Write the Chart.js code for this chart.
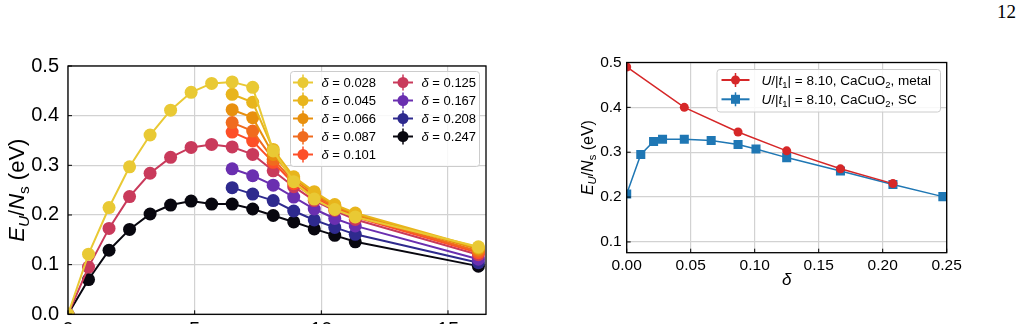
<!DOCTYPE html>
<html>
<head>
<meta charset="utf-8">
<script src="https://cdn.jsdelivr.net/npm/chart.js@4"></script>
<style>
html, body { margin: 0; padding: 0; background: #fff; overflow: hidden; width: 1023px; height: 324px; }
#c1 { position: absolute; left: 0; top: 0; }
#c2 { position: absolute; left: 560px; top: 0; }
#page { position: absolute; left: 997px; top: 2px; font: 19px "Liberation Serif", "Times New Roman", serif; line-height: 1; }
</style>
</head>
<body>
<div id="page">12</div>
<canvas id="c1" width="500" height="350"></canvas>
<canvas id="c2" width="420" height="324"></canvas>
<script>
// left panel: energy vs U/|t1| for several dopings
const uFull = [0, 0.81, 1.62, 2.43, 3.24, 4.05, 4.86, 5.67, 6.48, 7.29, 8.10, 8.91, 9.72, 10.53, 11.34, 16.2];
const uPart = [6.48, 7.29, 8.10, 8.91, 9.72, 10.53, 11.34, 16.2];
const dopings = ['0.028', '0.045', '0.066', '0.087', '0.101', '0.125', '0.167', '0.208', '0.247'];
const e028 = [0, 0.121, 0.215, 0.297, 0.361, 0.411, 0.447, 0.465, 0.468, 0.457, 0.329, 0.267, 0.232, 0.211, 0.196, 0.136];
const e045 = [0.443, 0.427, 0.332, 0.277, 0.247, 0.221, 0.204, 0.134];
const e066 = [0.412, 0.396, 0.322, 0.273, 0.244, 0.219, 0.202, 0.131];
const e087 = [0.386, 0.369, 0.312, 0.268, 0.240, 0.216, 0.199, 0.127];
const e101 = [0.367, 0.349, 0.306, 0.263, 0.236, 0.213, 0.196, 0.124];
const e125 = [0, 0.095, 0.173, 0.237, 0.284, 0.316, 0.336, 0.342, 0.337, 0.322, 0.289, 0.257, 0.229, 0.209, 0.191, 0.120];
const e167 = [0.293, 0.279, 0.260, 0.236, 0.212, 0.193, 0.178, 0.111];
const e208 = [0.255, 0.242, 0.229, 0.208, 0.190, 0.175, 0.161, 0.104];
const e247 = [0, 0.070, 0.129, 0.171, 0.202, 0.220, 0.228, 0.222, 0.222, 0.212, 0.199, 0.186, 0.172, 0.159, 0.146, 0.097];

// right panel: energy vs doping at U/|t1| = 8.10
const deltaMetal = [0, 0.045, 0.087, 0.125, 0.167, 0.208];
const eMetal = [0.490, 0.400, 0.345, 0.303, 0.263, 0.230];
const deltaSC = [0, 0.011, 0.021, 0.028, 0.045, 0.066, 0.087, 0.101, 0.125, 0.167, 0.208, 0.247];
const eSC = [0.207, 0.295, 0.324, 0.329, 0.329, 0.326, 0.317, 0.307, 0.288, 0.258, 0.228, 0.201];

const colours = ['#e9c934', '#e8b51c', '#e8900e', '#f06b1e', '#fd4f28', '#c93a5b', '#6a2fb0', '#2e2a8e', '#08070f'];
const FONT = '"Liberation Sans", Arial, Helvetica, sans-serif';

Chart.defaults.color = '#000';
Chart.defaults.font.family = FONT;
Chart.defaults.animation = false;
Chart.defaults.plugins.legend.display = false;
Chart.defaults.plugins.tooltip.enabled = false;

// draw text made of pieces: [text, flags], i = italic, s = subscript
function drawRich(ctx, parts, x, y, size, align) {
	let total = 0;
	const items = parts.map(([t, f = '']) => {
		const sz = f.includes('s') ? size * 0.7 : size;
		const font = (f.includes('i') ? 'italic ' : '') + sz + 'px ' + FONT;
		ctx.font = font;
		const w = ctx.measureText(t).width;
		total += w;
		return { t, font, w, dy: f.includes('s') ? size * 0.22 : 0 };
	});
	let cx = align === 'center' ? x - total / 2 : x;
	ctx.textAlign = 'left';
	ctx.textBaseline = 'alphabetic';
	items.forEach(it => {
		ctx.font = it.font;
		ctx.fillText(it.t, cx, y + it.dy);
		cx += it.w;
	});
}

const yTitle = [['E', 'i'], ['U', 'si'], ['/'], ['N', 'i'], ['s', 's'], [' (eV)']];

function legendMarker(ctx, cx, cy, colour, square, r, half) {
	ctx.save();
	ctx.strokeStyle = colour;
	ctx.fillStyle = colour;
	ctx.lineWidth = 2;
	ctx.beginPath();
	ctx.moveTo(cx - half, cy);
	ctx.lineTo(cx + half, cy);
	ctx.stroke();
	ctx.lineWidth = 1.5;
	ctx.beginPath();
	ctx.moveTo(cx, cy - r - 2.5);
	ctx.lineTo(cx, cy + r + 2.5);
	ctx.stroke();
	ctx.beginPath();
	if (square) ctx.rect(cx - r, cy - r, 2 * r, 2 * r);
	else ctx.arc(cx, cy, r, 0, Math.PI * 2);
	ctx.fill();
	ctx.restore();
}

function legendBox(ctx, x, y, w, h) {
	ctx.save();
	ctx.fillStyle = 'rgba(255,255,255,0.85)';
	ctx.strokeStyle = '#cccccc';
	ctx.lineWidth = 1;
	ctx.beginPath();
	ctx.roundRect(x + 0.5, y + 0.5, w, h, 3);
	ctx.fill();
	ctx.stroke();
	ctx.restore();
}

// frame, inward ticks, rotated y title and legend
const decorations = {
	id: 'decorations',
	afterDatasetsDraw(chart, args, opts) {
		const { ctx, chartArea: a, scales } = chart;
		ctx.save();
		ctx.strokeStyle = '#000';
		ctx.lineWidth = 1;
		scales.x.ticks.forEach(t => {
			const px = scales.x.getPixelForValue(t.value);
			ctx.beginPath();
			ctx.moveTo(px, a.bottom);
			ctx.lineTo(px, a.bottom - 4);
			ctx.stroke();
		});
		scales.y.ticks.forEach(t => {
			const py = scales.y.getPixelForValue(t.value);
			ctx.beginPath();
			ctx.moveTo(a.left, py);
			ctx.lineTo(a.left + 4, py);
			ctx.stroke();
		});
		ctx.lineWidth = 1.3;
		ctx.strokeRect(a.left, a.top, a.right - a.left, a.bottom - a.top);
		ctx.restore();
	},
	afterDraw(chart, args, opts) {
		const { ctx, chartArea: a } = chart;
		ctx.save();
		ctx.fillStyle = '#000';
		ctx.translate(opts.titleX, (a.top + a.bottom) / 2);
		ctx.rotate(-Math.PI / 2);
		drawRich(ctx, yTitle, 0, opts.titleSize * 0.36, opts.titleSize, 'center');
		ctx.restore();
		if (opts.xTitle) {
			ctx.save();
			ctx.fillStyle = '#000';
			drawRich(ctx, opts.xTitle, (a.left + a.right) / 2, opts.xTitleY, opts.xTitleSize, 'center');
			ctx.restore();
		}
		const lg = opts.legend;
		legendBox(ctx, lg.x, lg.y, lg.w, lg.h);
		lg.items.forEach(it => {
			legendMarker(ctx, it.mx, it.y, it.colour, it.square, it.r, lg.half);
			ctx.fillStyle = '#000';
			drawRich(ctx, it.parts, it.tx, it.y + lg.size * 0.36, lg.size, 'left');
		});
	}
};

const xsFor = [uFull, uPart, uPart, uPart, uPart, uFull, uPart, uPart, uFull];
const ysFor = [e028, e045, e066, e087, e101, e125, e167, e208, e247];

const leftSets = dopings.map((d, k) => ({
	label: 'δ = ' + d,
	data: ysFor[k].map((y, i) => ({ x: xsFor[k][i], y: y })),
	borderColor: colours[k],
	backgroundColor: colours[k],
	borderWidth: 2,
	pointRadius: 6.5,
	pointBorderWidth: 0,
	clip: 0
}));

const leftLegend = {
	x: 290, y: 71, w: 189, h: 95, size: 13, half: 10,
	items: dopings.map((d, k) => ({
		parts: [['δ', 'i'], [' = ' + d]],
		colour: colours[k],
		square: false,
		r: 5.5,
		mx: k < 5 ? 303 : 403,
		tx: k < 5 ? 321.5 : 421.5,
		y: 82.5 + 18 * (k < 5 ? k : k - 5)
	}))
};

new Chart(document.getElementById('c1'), {
	type: 'line',
	data: { datasets: leftSets },
	options: {
		responsive: false,
		layout: { padding: { left: 0, top: 66, right: 14, bottom: 0 } },
		scales: {
			x: {
				type: 'linear', min: 0, max: 16.5,
				afterFit: s => { s.height = 35.7; },
				grid: { color: '#d2d2d2', lineWidth: 1.2, drawTicks: false },
				border: { display: false },
				ticks: { stepSize: 5, includeBounds: false, padding: 4, font: { size: 20 }, maxRotation: 0 }
			},
			y: {
				type: 'linear', min: 0, max: 0.5,
				afterFit: s => { s.width = 68; },
				grid: { color: '#d2d2d2', lineWidth: 1.2, drawTicks: false },
				border: { display: false },
				ticks: { stepSize: 0.1, padding: 9, font: { size: 20 }, callback: v => v.toFixed(1) }
			}
		},
		plugins: {
			decorations: { titleX: 16, titleSize: 22, legend: leftLegend }
		}
	},
	plugins: [decorations]
});

const rightLegend = {
	x: 156.5, y: 69, w: 223.5, h: 42.5, size: 13.5, half: 14,
	items: [
		{ parts: [['U', 'i'], ['/|'], ['t', 'i'], ['1', 's'], ['| = 8.10, CaCuO'], ['2', 's'], [', metal']], colour: '#d62728', square: false, r: 4.5, mx: 175.5, tx: 201.5, y: 80 },
		{ parts: [['U', 'i'], ['/|'], ['t', 'i'], ['1', 's'], ['| = 8.10, CaCuO'], ['2', 's'], [', SC']], colour: '#1f77b4', square: true, r: 4.5, mx: 175.5, tx: 201.5, y: 99.3 }
	]
};

new Chart(document.getElementById('c2'), {
	type: 'line',
	data: {
		datasets: [
			{
				label: 'U/|t1| = 8.10, CaCuO2, metal',
				data: deltaMetal.map((d, i) => ({ x: d, y: eMetal[i] })),
				borderColor: '#d62728', backgroundColor: '#d62728',
				borderWidth: 1.5, pointRadius: 4.5, pointBorderWidth: 0, clip: 0
			},
			{
				label: 'U/|t1| = 8.10, CaCuO2, SC',
				data: deltaSC.map((d, i) => ({ x: d, y: eSC[i] })),
				borderColor: '#1f77b4', backgroundColor: '#1f77b4',
				borderWidth: 1.5, pointRadius: 6.4, pointStyle: 'rect', pointBorderWidth: 0, clip: 0
			}
		]
	},
	options: {
		responsive: false,
		layout: { padding: { left: 0, top: 62.5, right: 33.3, bottom: 0 } },
		scales: {
			x: {
				type: 'linear', min: 0, max: 0.25,
				afterFit: s => { s.height = 71.3; },
				grid: { color: '#d2d2d2', lineWidth: 1.2, drawTicks: false },
				border: { display: false },
				ticks: { stepSize: 0.05, includeBounds: false, padding: 4, font: { size: 15.5 }, maxRotation: 0, callback: v => v.toFixed(2) }
			},
			y: {
				type: 'linear', min: 0.076, max: 0.5,
				afterFit: s => { s.width = 66.7; },
				grid: { color: '#d2d2d2', lineWidth: 1.2, drawTicks: false },
				border: { display: false },
				ticks: { stepSize: 0.1, includeBounds: false, padding: 5, font: { size: 15.5 }, callback: v => v.toFixed(1) }
			}
		},
		plugins: {
			decorations: {
				titleX: 27, titleSize: 16, legend: rightLegend,
				xTitle: [['δ', 'i']], xTitleY: 285, xTitleSize: 17
			}
		}
	},
	plugins: [decorations]
});
</script>
</body>
</html>
